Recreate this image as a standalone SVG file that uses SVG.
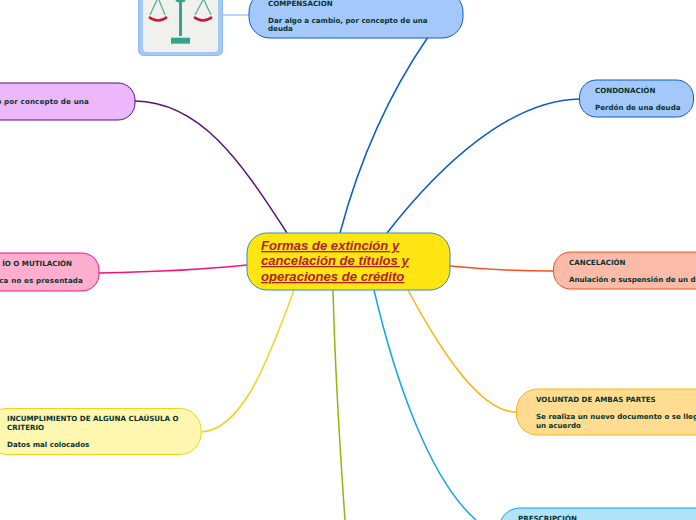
<svg xmlns="http://www.w3.org/2000/svg" width="696" height="520" viewBox="0 0 696 520">
<style>
.c{fill:none;stroke-width:1.5}
.t{font-family:"DejaVu Sans",Verdana,sans-serif;font-size:7.1px;font-weight:700;fill:#06352f}
.w{letter-spacing:.15px}
.h{font-family:"Liberation Sans",Arial,sans-serif;font-size:13.1px;font-weight:700;font-style:italic;fill:#b3202a;text-decoration:underline}
</style>
<rect width="696" height="520" fill="#fff"/>
<g id="connectors">
<path class="c" stroke="#0a5ccc" d="M340 233C362 150 395 85 428 37"/>
<path class="c" stroke="#0a5ccc" d="M387 233C440 165 510 100 580 99"/>
<path class="c" stroke="#5a0f78" d="M287 233C240 160 200 102 135 101"/>
<path class="c" stroke="#f0127e" d="M247 265C200 270 150 272 99 273"/>
<path class="c" stroke="#f2d320" d="M294 290C265 370 240 430 201 432"/>
<path class="c" stroke="#8cb90c" d="M333 290C335 370 340 450 345 520"/>
<path class="c" stroke="#12a5ea" d="M374 290C395 380 430 480 476 520"/>
<path class="c" stroke="#fdb40e" d="M408 290C440 350 480 412 516 412"/>
<path class="c" stroke="#f4501e" d="M450 266C480 269 520 271 553 271"/>
<path class="c" stroke="#a5c8fb" d="M222 15H249"/>
</g>
<g id="icon">
<rect x="138.500" y="-12" width="84" height="67.500" rx="5" fill="#a5c8fb" stroke="#8fb8f2"/>
<rect x="143" y="-12" width="75" height="64" rx="4" fill="#f0f0ec"/>
<rect x="179" y="0" width="3" height="36" fill="#34a58c"/>
<rect x="171" y="37.700" width="19" height="6" fill="#34a58c"/>
<path d="M157 0L150 15M159 0L165 15M203 0L195 15M204 0L211 15" stroke="#5fb3a0" stroke-width="1.400" fill="none"/>
<ellipse cx="180.500" cy="0" rx="5" ry="2.500" fill="#34a58c"/>
<path d="M149 17Q158 24 167 17M194 17Q203 24 212 17" fill="none" stroke="#c8173a" stroke-width="2.400"/>
</g>
<g id="compensacion">
<rect x="249" y="-9" width="214" height="47" rx="21" fill="#a5c8fb" stroke="#0a5ccc"/>
<text class="t" x="268" y="6">COMPENSACION</text>
<text class="t" x="268" y="23">Dar algo a cambio, por concepto de una</text>
<text class="t" x="268" y="31">deuda</text>
</g>
<g id="pago">
<rect x="-60" y="83" width="195" height="37" rx="17" fill="#ecb8fb" stroke="#5a0f78"/>
<text class="t w" x="89" y="104" text-anchor="end">ro por concepto de una</text>
</g>
<g id="extravio">
<rect x="-60" y="253" width="159" height="38" rx="17" fill="#ffaecf" stroke="#f0127e"/>
<text class="t" x="72" y="266" text-anchor="end">ÍO O MUTILACIÓN</text>
<text class="t w" x="83" y="283" text-anchor="end">sica no es presentada</text>
</g>
<g id="incumplimiento">
<rect x="-14" y="408.500" width="215" height="46" rx="21" fill="#fff6b0" stroke="#f2d320"/>
<text class="t" x="7" y="421">INCUMPLIMIENTO DE ALGUNA CLAÚSULA O</text>
<text class="t" x="7" y="430">CRITERIO</text>
<text class="t" x="7" y="447">Datos mal colocados</text>
</g>
<g id="condonacion">
<rect x="579.500" y="80" width="114" height="37" rx="17" fill="#a5c8fb" stroke="#0a5ccc"/>
<text class="t" x="595" y="93">CONDONACIÓN</text>
<text class="t" x="595" y="110">Perdón de una deuda</text>
</g>
<g id="cancelacion">
<rect x="553.500" y="252" width="200" height="37" rx="17" fill="#fbbba8" stroke="#f4501e"/>
<text class="t" x="569" y="265">CANCELACIÓN</text>
<text class="t" x="569" y="282">Anulación o suspensión de un documento</text>
</g>
<g id="voluntad">
<rect x="516.500" y="389" width="240" height="46" rx="21" fill="#ffdc90" stroke="#fdb40e"/>
<text class="t" x="536" y="402">VOLUNTAD DE AMBAS PARTES</text>
<text class="t" x="536" y="419">Se realiza un nuevo documento o se llega a</text>
<text class="t" x="536" y="428">un acuerdo</text>
</g>
<g id="prescripcion">
<rect x="499" y="508" width="240" height="46" rx="21" fill="#b0e4fb" stroke="#12a5ea"/>
<text class="t" x="518" y="521">PRESCRIPCIÓN</text>
</g>
<g id="central">
<rect x="247" y="233" width="203" height="57" rx="20" fill="#ffe511" stroke="#2a8fc8"/>
<text class="h" x="261" y="250">Formas de extinción y </text>
<text class="h" x="261" y="265">cancelación de títulos y </text>
<text class="h" x="261" y="281">operaciones de crédito</text>
</g>
</svg>
